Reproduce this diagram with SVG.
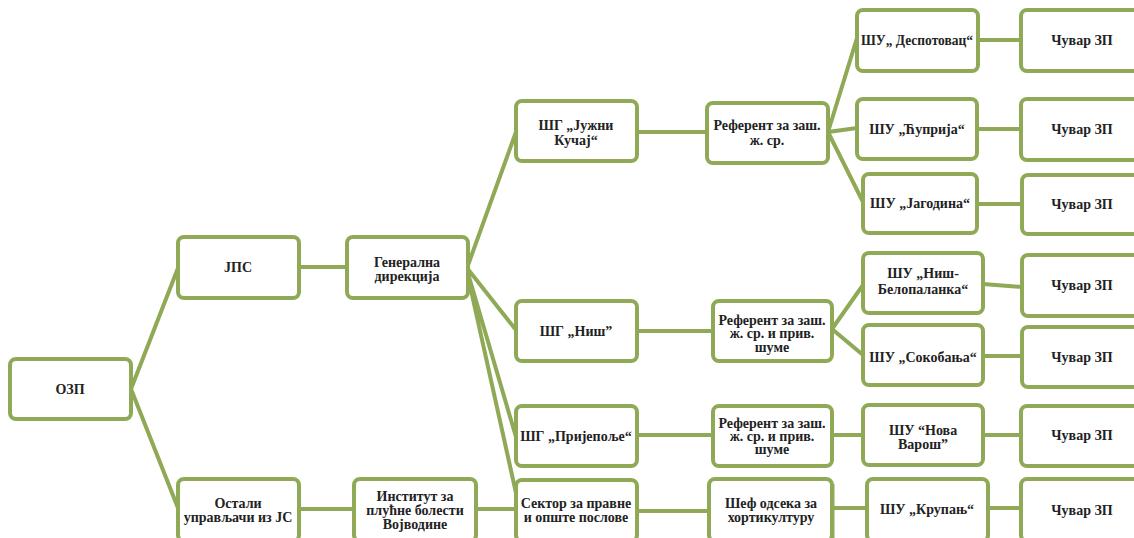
<svg xmlns="http://www.w3.org/2000/svg" width="1134" height="538" viewBox="0 0 1134 538">
<style>
.box{fill:#fff;stroke:#8fa956;stroke-width:4}
.ln{stroke:#8fa956;stroke-width:4;fill:none;stroke-linecap:round}
text{font-family:'Liberation Serif','DejaVu Serif',serif;font-weight:bold;font-size:14px;fill:#222;text-anchor:middle}
</style>
<rect width="1134" height="538" fill="#fff"/>
<g id="connectors">
<path class="ln" d="M131,389 L178,268 M131,389 L178,508"/>
<path class="ln" d="M299,267 L347,267"/>
<path class="ln" d="M299,509 L354,509 M476,509 L516,509"/>
<path class="ln" d="M467,268 L516,132 M467,268 L516,330 M467,270 L516,437 M467,272 L516,493"/>
<path class="ln" d="M637,132 L707,132"/>
<path class="ln" d="M637,331 L713,331"/>
<path class="ln" d="M637,435 L713,435"/>
<path class="ln" d="M637,511 L709,511"/>
<path class="ln" d="M828,132 L857,38 M828,132 L857,128 M828,132 L863,202"/>
<path class="ln" d="M832,329 L863,285 M832,329 L863,355"/>
<path class="ln" d="M832,435 L863,435"/>
<path class="ln" d="M833,508 L867,508"/>
<path class="ln" d="M978,40 L1021,40 M977,129 L1021,129 M977,204 L1022,204 M983,284 L1022,287 M983,356 L1022,356 M983,435 L1021,435 M988,508 L1021,508"/>
</g>
<g id="n-ozp"><rect class="box" x="10" y="359" width="121" height="60" rx="6"/><text x="70" y="394">ОЗП</text></g>
<g id="n-jps"><rect class="box" x="178" y="237" width="121" height="61" rx="6"/><text x="238" y="272">ЈПС</text></g>
<g id="n-ostali"><rect class="box" x="178" y="479" width="121" height="62" rx="6"/><text x="238" y="508">Остали</text><text x="238" y="522">управљачи из ЈС</text></g>
<g id="n-gen"><rect class="box" x="347" y="237" width="121" height="61" rx="6"/><text x="407" y="267">Генерална</text><text x="407" y="281">дирекција</text></g>
<g id="n-inst"><rect class="box" x="354" y="479" width="122" height="62" rx="6"/><text x="415" y="501">Институт за</text><text x="415" y="515">плућне болести</text><text x="415" y="529">Војводине</text></g>
<g id="n-sg1"><rect class="box" x="516" y="101" width="121" height="60" rx="6"/><text x="576" y="130">ШГ „Јужни</text><text x="576" y="145">Кучај“</text></g>
<g id="n-sg2"><rect class="box" x="516" y="301" width="121" height="60" rx="6"/><text x="576" y="336">ШГ „Ниш”</text></g>
<g id="n-sg3"><rect class="box" x="516" y="406" width="121" height="60" rx="6"/><text x="576" y="441">ШГ „Пријепоље“</text></g>
<g id="n-sektor"><rect class="box" x="516" y="480" width="121" height="61" rx="6"/><text x="576" y="508">Сектор за правне</text><text x="576" y="522">и опште послове</text></g>
<g id="n-ref1"><rect class="box" x="707" y="103" width="121" height="60" rx="6"/><text x="767" y="130">Референт за заш.</text><text x="767" y="145">ж. ср.</text></g>
<g id="n-ref2"><rect class="box" x="713" y="301" width="119" height="60" rx="6"/><text x="772" y="325">Референт за заш.</text><text x="772" y="338">ж. ср. и прив.</text><text x="772" y="352">шуме</text></g>
<g id="n-ref3"><rect class="box" x="713" y="406" width="119" height="60" rx="6"/><text x="772" y="428">Референт за заш.</text><text x="772" y="441">ж. ср. и прив.</text><text x="772" y="454">шуме</text></g>
<g id="n-sef"><rect class="box" x="709" y="479" width="123" height="62" rx="6"/><line x1="833" y1="484" x2="833" y2="538" stroke="#8fa956" stroke-width="3"/><text x="771" y="508">Шеф одсека за</text><text x="771" y="522">хортикултуру</text></g>
<g id="n-su1"><rect class="box" x="857" y="10" width="121" height="61" rx="6"/><text x="917" y="45" textLength="112" lengthAdjust="spacingAndGlyphs">ШУ„ Деспотовац“</text></g>
<g id="n-su2"><rect class="box" x="857" y="99" width="120" height="60" rx="6"/><text x="917" y="134">ШУ „Ћуприја“</text></g>
<g id="n-su3"><rect class="box" x="863" y="174" width="114" height="59" rx="6"/><text x="920" y="208">ШУ „Јагодина“</text></g>
<g id="n-su4"><rect class="box" x="863" y="253" width="120" height="60" rx="6"/><text x="923" y="278">ШУ „Ниш-</text><text x="923" y="294">Белопаланка“</text></g>
<g id="n-su5"><rect class="box" x="863" y="325" width="120" height="60" rx="6"/><text x="923" y="362">ШУ „Сокобања“</text></g>
<g id="n-su6"><rect class="box" x="863" y="405" width="120" height="60" rx="6"/><text x="923" y="435">ШУ “Нова</text><text x="923" y="449">Варош”</text></g>
<g id="n-su7"><rect class="box" x="867" y="479" width="121" height="62" rx="6"/><text x="927" y="514">ШУ „Крупањ“</text></g>
<g id="n-c1"><rect class="box" x="1021" y="10" width="121" height="61" rx="6"/><text x="1082" y="45">Чувар ЗП</text></g>
<g id="n-c2"><rect class="box" x="1021" y="99" width="121" height="61" rx="6"/><text x="1082" y="134">Чувар ЗП</text></g>
<g id="n-c3"><rect class="box" x="1022" y="175" width="121" height="59" rx="6"/><text x="1082" y="209">Чувар ЗП</text></g>
<g id="n-c4"><rect class="box" x="1022" y="255" width="121" height="61" rx="6"/><text x="1082" y="290">Чувар ЗП</text></g>
<g id="n-c5"><rect class="box" x="1022" y="327" width="121" height="60" rx="6"/><text x="1082" y="362">Чувар ЗП</text></g>
<g id="n-c6"><rect class="box" x="1021" y="406" width="121" height="60" rx="6"/><text x="1082" y="440">Чувар ЗП</text></g>
<g id="n-c7"><rect class="box" x="1021" y="479" width="121" height="62" rx="6"/><text x="1082" y="515">Чувар ЗП</text></g>
</svg>
